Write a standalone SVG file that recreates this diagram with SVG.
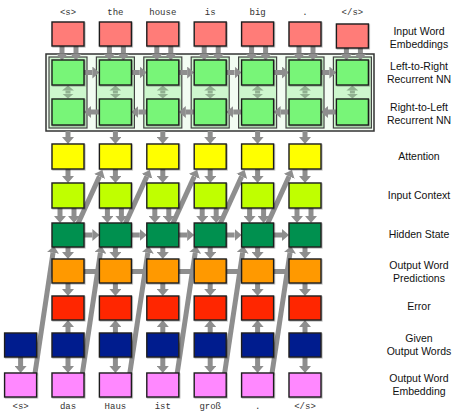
<svg xmlns="http://www.w3.org/2000/svg" width="462" height="419" viewBox="0 0 462 419">
<style>
.b{stroke:#1e1e1e;stroke-width:1.4;filter:url(#sh)}
.emb{fill:#ff7b78}.g{fill:#78f578}.att{fill:#ffff00}.ctx{fill:#c0ff00}.hid{fill:#00904f}
.pred{fill:#ff9900}.err{fill:#ff2600}.giv{fill:#001a8e}.oemb{fill:#ff88ff}
.a path{stroke:#8e8e8e;stroke-width:5;fill:none;marker-end:url(#ah)}
.bar{stroke:#8e8e8e;stroke-width:5;fill:none}
.d path{stroke:#90b090;stroke-width:5;fill:none;marker-start:url(#ahs);marker-end:url(#ahs)}
.w{font-family:"Liberation Mono",monospace;font-size:9px;fill:#333;text-anchor:middle}
.l{font-family:"Liberation Sans",Arial,sans-serif;font-size:10.5px;fill:#111;text-anchor:middle}
</style>
<defs>
<marker id="ah" markerUnits="userSpaceOnUse" markerWidth="8" markerHeight="12" refX="0" refY="6" orient="auto"><path d="M0,0 L7,6 L0,12 z" fill="#8e8e8e"/></marker>
<marker id="ahs" markerUnits="userSpaceOnUse" markerWidth="6" markerHeight="12" refX="0" refY="6" orient="auto-start-reverse"><path d="M0,0 L5,6 L0,12 z" fill="#90b090"/></marker>
<filter id="sh" x="-20%" y="-20%" width="140%" height="140%"><feDropShadow dx="0.8" dy="0.8" stdDeviation="0.7" flood-color="#000" flood-opacity="0.3"/></filter>
</defs>
<rect width="462" height="419" fill="#fff"/>

<g id="encoder-frame">
<rect x="46" y="54" width="328" height="77" fill="#f2fcf2" stroke="#333" stroke-width="1.5"/>
<rect x="49" y="57" width="38" height="71" fill="#cdf6cd" stroke="#444" stroke-width="1.2"/>
<rect x="96.4" y="57" width="38" height="71" fill="#cdf6cd" stroke="#444" stroke-width="1.2"/>
<rect x="143.8" y="57" width="38" height="71" fill="#cdf6cd" stroke="#444" stroke-width="1.2"/>
<rect x="191.2" y="57" width="38" height="71" fill="#cdf6cd" stroke="#444" stroke-width="1.2"/>
<rect x="238.6" y="57" width="38" height="71" fill="#cdf6cd" stroke="#444" stroke-width="1.2"/>
<rect x="286" y="57" width="38" height="71" fill="#cdf6cd" stroke="#444" stroke-width="1.2"/>
<rect x="333.4" y="57" width="38" height="71" fill="#cdf6cd" stroke="#444" stroke-width="1.2"/>
</g>

<g id="connectors">
<g class="a">
<!-- input embedding to RNN -->
<path d="M62,46V53.5"/><path d="M76,46V53.5"/><path d="M109.4,46V53.5"/><path d="M123.4,46V53.5"/><path d="M156.8,46V53.5"/><path d="M170.8,46V53.5"/><path d="M204.2,46V53.5"/><path d="M218.2,46V53.5"/><path d="M251.6,46V53.5"/><path d="M265.6,46V53.5"/><path d="M299,46V53.5"/><path d="M313,46V53.5"/><path d="M346.4,48V53.5"/><path d="M360.4,48V53.5"/>
<!-- left-to-right -->
<path d="M84,72.5H92.4"/><path d="M131.4,72.5H139.8"/><path d="M178.8,72.5H187.2"/><path d="M226.2,72.5H234.6"/><path d="M273.6,72.5H282"/><path d="M321,72.5H329.4"/>
<!-- right-to-left -->
<path d="M99.4,112H91"/><path d="M146.8,112H138.4"/><path d="M194.2,112H185.8"/><path d="M241.6,112H233.2"/><path d="M289,112H280.6"/><path d="M336.4,112H328"/>
<!-- encoder to attention -->
<path d="M68,131V137"/><path d="M115.4,131V137"/><path d="M162.8,131V137"/><path d="M210.2,131V137"/><path d="M257.6,131V137"/><path d="M305,131V137"/>
<!-- attention to context -->
<path d="M68,168V176"/><path d="M115.4,168V176"/><path d="M162.8,168V176"/><path d="M210.2,168V176"/><path d="M257.6,168V176"/><path d="M305,168V176"/>
<!-- hidden to next attention -->
<path d="M76,228L99.5,176.4"/><path d="M123.4,228L146.9,176.4"/><path d="M170.8,228L194.3,176.4"/><path d="M218.2,228L241.7,176.4"/><path d="M265.6,228L289.1,176.4"/>
<!-- context to hidden -->
<path d="M60,208V216"/><path d="M74,208V216"/><path d="M107.4,208V216"/><path d="M121.4,208V216"/><path d="M154.8,208V216"/><path d="M168.8,208V216"/><path d="M202.2,208V216"/><path d="M216.2,208V216"/><path d="M249.6,208V216"/><path d="M263.6,208V216"/><path d="M297,208V216"/><path d="M311,208V216"/>
<!-- hidden to hidden -->
<path d="M84,235H92.4"/><path d="M131.4,235H139.8"/><path d="M178.8,235H187.2"/><path d="M226.2,235H234.6"/><path d="M273.6,235H282"/>
<!-- hidden to prediction -->
<path d="M68,247V252"/><path d="M115.4,247V252"/><path d="M162.8,247V252"/><path d="M210.2,247V252"/><path d="M257.6,247V252"/><path d="M305,247V252"/>
<!-- prediction to error -->
<path d="M68,283V289"/><path d="M115.4,283V289"/><path d="M162.8,283V289"/><path d="M210.2,283V289"/><path d="M257.6,283V289"/><path d="M305,283V289"/>
<!-- given to error -->
<path d="M68,333V327"/><path d="M115.4,333V327"/><path d="M162.8,333V327"/><path d="M210.2,333V327"/><path d="M257.6,333V327"/><path d="M305,333V327"/>
<!-- given to output embedding -->
<path d="M20.6,357V366"/><path d="M68,357V366"/><path d="M115.4,357V366"/><path d="M162.8,357V366"/><path d="M210.2,357V366"/><path d="M257.6,357V366"/><path d="M305,357V366"/>
<!-- output embedding to next hidden -->
<path d="M34.6,376L53,252.9"/><path d="M82,376L100.4,252.9"/><path d="M129.4,376L147.8,252.9"/><path d="M176.8,376L195.2,252.9"/><path d="M224.2,376L242.6,252.9"/><path d="M271.6,376L290,252.9"/>
</g>
<g class="d">
<path d="M68,90.5V93.5"/><path d="M115.4,90.5V93.5"/><path d="M162.8,90.5V93.5"/><path d="M210.2,90.5V93.5"/><path d="M257.6,90.5V93.5"/><path d="M305,90.5V93.5"/><path d="M352.4,90.5V93.5"/>
</g>
<path class="bar" d="M84,271.5H99.4M131.4,271.5H146.8M178.8,271.5H194.2M226.2,271.5H241.6M273.6,271.5H289"/>
</g>

<g id="input-embeddings">
<rect id="in0" class="b emb" x="52" y="22" width="32" height="24"/>
<rect id="in1" class="b emb" x="99.4" y="22" width="32" height="24"/>
<rect id="in2" class="b emb" x="146.8" y="22" width="32" height="24"/>
<rect id="in3" class="b emb" x="194.2" y="22" width="32" height="24"/>
<rect id="in4" class="b emb" x="241.6" y="22" width="32" height="24"/>
<rect id="in5" class="b emb" x="289" y="22" width="32" height="24"/>
<rect id="in6" class="b emb" x="336.4" y="24" width="32" height="24"/>
</g>
<g id="l2r">
<rect id="f0" class="b g" x="52" y="60" width="32" height="25"/>
<rect id="f1" class="b g" x="99.4" y="60" width="32" height="25"/>
<rect id="f2" class="b g" x="146.8" y="60" width="32" height="25"/>
<rect id="f3" class="b g" x="194.2" y="60" width="32" height="25"/>
<rect id="f4" class="b g" x="241.6" y="60" width="32" height="25"/>
<rect id="f5" class="b g" x="289" y="60" width="32" height="25"/>
<rect id="f6" class="b g" x="336.4" y="60" width="32" height="25"/>
</g>
<g id="r2l">
<rect id="r0" class="b g" x="52" y="99" width="32" height="26"/>
<rect id="r1" class="b g" x="99.4" y="99" width="32" height="26"/>
<rect id="r2" class="b g" x="146.8" y="99" width="32" height="26"/>
<rect id="r3" class="b g" x="194.2" y="99" width="32" height="26"/>
<rect id="r4" class="b g" x="241.6" y="99" width="32" height="26"/>
<rect id="r5" class="b g" x="289" y="99" width="32" height="26"/>
<rect id="r6" class="b g" x="336.4" y="99" width="32" height="26"/>
</g>
<g id="attention">
<rect class="b att" x="52" y="144" width="32" height="25"/>
<rect class="b att" x="99.4" y="144" width="32" height="25"/>
<rect class="b att" x="146.8" y="144" width="32" height="25"/>
<rect class="b att" x="194.2" y="144" width="32" height="25"/>
<rect class="b att" x="241.6" y="144" width="32" height="25"/>
<rect class="b att" x="289" y="144" width="32" height="25"/>
</g>
<g id="context">
<rect class="b ctx" x="52" y="183" width="32" height="25"/>
<rect class="b ctx" x="99.4" y="183" width="32" height="25"/>
<rect class="b ctx" x="146.8" y="183" width="32" height="25"/>
<rect class="b ctx" x="194.2" y="183" width="32" height="25"/>
<rect class="b ctx" x="241.6" y="183" width="32" height="25"/>
<rect class="b ctx" x="289" y="183" width="32" height="25"/>
</g>
<g id="hidden">
<rect class="b hid" x="52" y="223" width="32" height="24"/>
<rect class="b hid" x="99.4" y="223" width="32" height="24"/>
<rect class="b hid" x="146.8" y="223" width="32" height="24"/>
<rect class="b hid" x="194.2" y="223" width="32" height="24"/>
<rect class="b hid" x="241.6" y="223" width="32" height="24"/>
<rect class="b hid" x="289" y="223" width="32" height="24"/>
</g>
<g id="predictions">
<rect class="b pred" x="52" y="259" width="32" height="24"/>
<rect class="b pred" x="99.4" y="259" width="32" height="24"/>
<rect class="b pred" x="146.8" y="259" width="32" height="24"/>
<rect class="b pred" x="194.2" y="259" width="32" height="24"/>
<rect class="b pred" x="241.6" y="259" width="32" height="24"/>
<rect class="b pred" x="289" y="259" width="32" height="24"/>
</g>
<g id="error">
<rect class="b err" x="52" y="296" width="32" height="24"/>
<rect class="b err" x="99.4" y="296" width="32" height="24"/>
<rect class="b err" x="146.8" y="296" width="32" height="24"/>
<rect class="b err" x="194.2" y="296" width="32" height="24"/>
<rect class="b err" x="241.6" y="296" width="32" height="24"/>
<rect class="b err" x="289" y="296" width="32" height="24"/>
</g>
<g id="given">
<rect class="b giv" x="4.6" y="333" width="32" height="24"/>
<rect class="b giv" x="52" y="333" width="32" height="24"/>
<rect class="b giv" x="99.4" y="333" width="32" height="24"/>
<rect class="b giv" x="146.8" y="333" width="32" height="24"/>
<rect class="b giv" x="194.2" y="333" width="32" height="24"/>
<rect class="b giv" x="241.6" y="333" width="32" height="24"/>
<rect class="b giv" x="289" y="333" width="32" height="24"/>
</g>
<g id="output-embeddings">
<rect class="b oemb" x="4.6" y="373" width="32" height="24"/>
<rect class="b oemb" x="52" y="373" width="32" height="24"/>
<rect class="b oemb" x="99.4" y="373" width="32" height="24"/>
<rect class="b oemb" x="146.8" y="373" width="32" height="24"/>
<rect class="b oemb" x="194.2" y="373" width="32" height="24"/>
<rect class="b oemb" x="241.6" y="373" width="32" height="24"/>
<rect class="b oemb" x="289" y="373" width="32" height="24"/>
</g>

<g id="input-words">
<text class="w" x="68" y="15">&lt;s&gt;</text>
<text class="w" x="115.4" y="15">the</text>
<text class="w" x="162.8" y="15">house</text>
<text class="w" x="210.2" y="15">is</text>
<text class="w" x="257.6" y="15">big</text>
<text class="w" x="305" y="15">.</text>
<text class="w" x="352.4" y="15">&lt;/s&gt;</text>
</g>
<g id="output-words">
<text class="w" x="20.6" y="409">&lt;s&gt;</text>
<text class="w" x="68" y="409">das</text>
<text class="w" x="115.4" y="409">Haus</text>
<text class="w" x="162.8" y="409">ist</text>
<text class="w" x="210.2" y="409">groß</text>
<text class="w" x="257.6" y="409">.</text>
<text class="w" x="305" y="409">&lt;/s&gt;</text>
</g>
<g id="legend">
<text class="l" x="419" y="35">Input Word</text>
<text class="l" x="419" y="48">Embeddings</text>
<text class="l" x="419" y="70">Left-to-Right</text>
<text class="l" x="419" y="83">Recurrent NN</text>
<text class="l" x="419" y="111">Right-to-Left</text>
<text class="l" x="419" y="124">Recurrent NN</text>
<text class="l" x="419" y="160">Attention</text>
<text class="l" x="419" y="199">Input Context</text>
<text class="l" x="419" y="238">Hidden State</text>
<text class="l" x="419" y="269">Output Word</text>
<text class="l" x="419" y="282">Predictions</text>
<text class="l" x="419" y="310">Error</text>
<text class="l" x="419" y="342">Given</text>
<text class="l" x="419" y="355">Output Words</text>
<text class="l" x="419" y="382">Output Word</text>
<text class="l" x="419" y="395">Embedding</text>
</g>
</svg>
